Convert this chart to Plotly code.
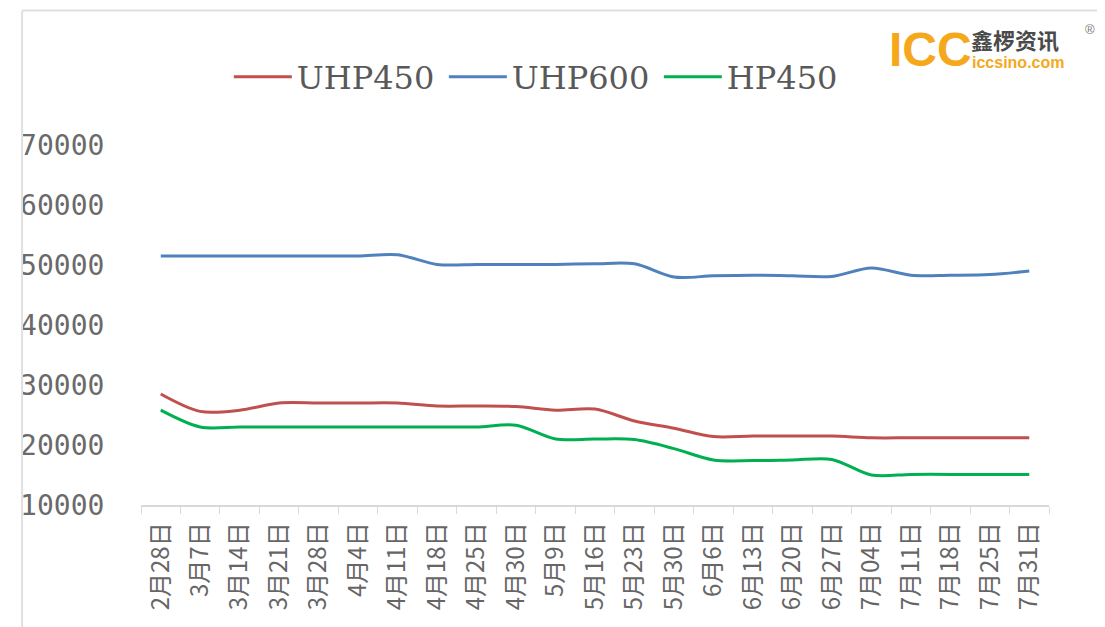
import plotly.graph_objects as go

categories = ["2月28日", "3月7日", "3月14日", "3月21日", "3月28日", "4月4日", "4月11日",
              "4月18日", "4月25日", "4月30日", "5月9日", "5月16日", "5月23日", "5月30日",
              "6月6日", "6月13日", "6月20日", "6月27日", "7月04日", "7月11日", "7月18日",
              "7月25日", "7月31日"]

uhp450 = [28500, 25600, 25800, 27000, 27000, 27000, 27000, 26500, 26500, 26400, 25800,
          26000, 24000, 22800, 21400, 21500, 21500, 21500, 21200, 21200, 21200, 21200, 21200]
uhp600 = [51500, 51500, 51500, 51500, 51500, 51500, 51700, 50100, 50100, 50100, 50100,
          50200, 50200, 48000, 48200, 48300, 48200, 48100, 49500, 48300, 48300, 48400, 49000]
hp450 = [25800, 23000, 23000, 23000, 23000, 23000, 23000, 23000, 23000, 23300, 21000,
         21000, 20900, 19400, 17500, 17400, 17500, 17600, 15000, 15100, 15100, 15100, 15100]

series = [("UHP450", uhp450, "#C0504D"),
          ("UHP600", uhp600, "#4F81BD"),
          ("HP450", hp450, "#00B050")]

OFF = 8  # page body margin
W, H = 1105 - OFF, 627 - OFF
# plot area in window pixels: x 129..1049, y 145..505
L = 129 - OFF
R = W - (1049 - OFF)
T = 145 - OFF
B = H - (505 - OFF)
PW, PH = W - L - R, H - T - B


def px(x):
    """window x pixel -> paper x"""
    return (x - OFF - L) / PW


def py(y):
    """window y pixel -> paper y"""
    return (H - B - (y - OFF)) / PH


fig = go.Figure()
for name, vals, color in series:
    fig.add_trace(go.Scatter(
        x=categories, y=vals, name=name, mode="lines",
        line=dict(color=color, width=3, shape="spline", smoothing=0.9),
    ))

fig.update_layout(
    width=W, height=H,
    margin=dict(l=L, r=R, t=T, b=B),
    paper_bgcolor="white", plot_bgcolor="white",
    showlegend=True,
    legend=dict(
        orientation="h", x=px(218), y=py(77), xanchor="left", yanchor="middle",
        font=dict(family="DejaVu Serif", size=32, color="#595959"),
        entrywidth=142, entrywidthmode="pixels", itemwidth=58,
        bgcolor="rgba(0,0,0,0)",
    ),
    xaxis=dict(
        type="category", range=[-0.5, len(categories) - 0.5],
        showgrid=False, showline=True, linecolor="#D9D9D9", linewidth=1.5,
        ticks="outside", tickson="boundaries", ticklen=7, tickcolor="#D9D9D9",
        tickangle=-90, ticklabelstandoff=6,
        tickfont=dict(family="Noto Sans CJK SC", size=24, color="#666666"),
        zeroline=False,
    ),
    yaxis=dict(
        range=[10000, 70000], dtick=10000, tick0=10000, tickformat="d",
        showgrid=False, showline=False, zeroline=False,
        ticks="outside", ticklen=30, tickcolor="rgba(0,0,0,0)",
        tickfont=dict(family="DejaVu Sans Mono", size=28, color="#6A6A6A"),
    ),
)

# chart border (top and left edges visible)
fig.add_shape(type="line", xref="paper", yref="paper",
              x0=px(8.5), x1=px(1110), y0=py(10.5), y1=py(10.5),
              line=dict(color="#E0E0E0", width=2))
fig.add_shape(type="line", xref="paper", yref="paper",
              x0=px(8.5), x1=px(8.5), y0=py(10.5), y1=py(630),
              line=dict(color="#E0E0E0", width=2))

# logo
fig.add_annotation(xref="paper", yref="paper", x=px(885), y=py(49), xanchor="left", yanchor="middle",
                   text="<b>ICC</b>", showarrow=False,
                   font=dict(family="Liberation Sans", size=48, color="#F5A81C"))
fig.add_annotation(xref="paper", yref="paper", x=px(968), y=py(39), xanchor="left", yanchor="middle",
                   text="<b>鑫椤资讯</b>", showarrow=False,
                   font=dict(family="Noto Sans CJK SC", size=22, color="#4A4A4A"))
fig.add_annotation(xref="paper", yref="paper", x=px(969), y=py(63), xanchor="left", yanchor="middle",
                   text="<b>iccsino.com</b>", showarrow=False,
                   font=dict(family="Liberation Sans", size=16, color="#F5A81C"))
fig.add_annotation(xref="paper", yref="paper", x=px(1091), y=py(29), xanchor="center", yanchor="middle",
                   text="®", showarrow=False,
                   font=dict(family="Liberation Sans", size=13, color="#777777"))

fig.write_html("out.html")
